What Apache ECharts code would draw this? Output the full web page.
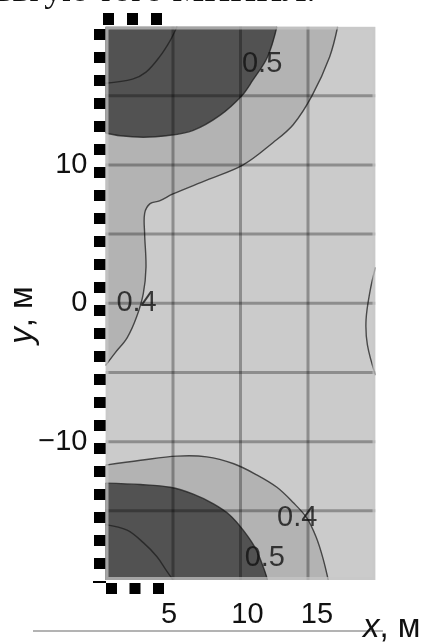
<!DOCTYPE html>
<html><head><meta charset="utf-8">
<script src="https://cdn.jsdelivr.net/npm/echarts@6/dist/echarts.min.js"></script>
<style>html,body{margin:0;padding:0;background:#fff}#c{width:424px;height:644px}</style>
</head><body><div id="c"></div>
<script>
// tick labels and grid positions
const xTickLabels = [5, 10, 15];
const yTickLabels = [-10, 0, 10];
const gridX = [5, 10, 15];
const gridY = [-15, -10, -5, 0, 5, 10, 15];
// contour lines ([x, y] in metres)
const c04Top = [[17.2,20],[16.6,17.8],[15.3,15.0],[13.9,12.9],[12.4,11.6],[10.2,10.0],[7.5,8.9],[5.0,7.9],[4.0,7.4],[3.3,7.2],[2.9,6.5],[2.9,5.0],[3.0,2.6],[2.8,0.7],[2.3,-1.0],[1.6,-2.5],[0.7,-3.6],[0,-4.5]];
const c05Top = [[12.7,20],[12.0,17.8],[10.9,16.1],[10.1,15.0],[8.5,13.6],[6.5,12.5],[4.5,12.1],[2.8,12.0],[1.1,12.1],[0,12.3]];
const c06Top = [[0,15.9],[2.0,16.2],[3.0,16.7],[4.0,17.8],[4.8,19.0],[5.3,20]];
const c04Bot = [[0,-11.7],[2.6,-11.35],[5.3,-11.05],[7.5,-11.1],[9.5,-11.6],[11.2,-12.4],[12.7,-13.3],[13.9,-14.4],[14.9,-15.5],[15.6,-16.9],[16.1,-18.4],[16.5,-20]];
const c05Bot = [[0,-13.0],[2.6,-13.1],[4.8,-13.3],[6.5,-13.8],[8.0,-14.5],[9.2,-15.3],[10.2,-16.4],[11.1,-17.7],[11.7,-19.1],[12.0,-20]];
const c06Bot = [[0,-16.0],[1.6,-16.4],[2.8,-17.3],[3.8,-18.3],[4.5,-19.3],[5.0,-20]];
const c035Right = [[20,2.6],[19.6,0.9],[19.3,-1.2],[19.4,-3.0],[20,-5.2]];
// contour labels
const labelPos = [[11.6,17.3],[2.3,0],[14.2,-15.5],[11.8,-18.4]];
const labelText = ['0.5','0.4','0.4','0.5'];

const X_MIN = 0, X_MAX = 20, Y_MIN = -20, Y_MAX = 20;
const C_LIGHT = '#cbcbcb', C_MED = '#b3b3b3', C_DARK = '#525252';
const FONT = '"Liberation Sans", Arial, sans-serif';
const SMOOTH = 0.35;

const chart = echarts.init(document.getElementById('c'), null, {renderer: 'canvas'});

// filled band: contour curve closed through points outside the plot (clipped away)
function band(api, pts, outside, fill) {
  return {type: 'polygon', shape: {points: pts.concat(outside).map(p => api.coord(p)), smooth: SMOOTH}, style: {fill: fill}};
}
function pline(api, pts, stroke, w, smooth) {
  return {type: 'polyline', shape: {points: pts.map(p => api.coord(p)), smooth: smooth || 0}, style: {stroke: stroke, lineWidth: w, fill: null}};
}

const graphics = [];
// top cropped text line
graphics.push({type: 'text', left: -4, top: -26, style: {text: 'ьвгую того МИНИЛ.', font: '36px "Liberation Serif", serif', fill: '#111'}});
// black square decorations
for (let i = 0; i < 24; i++) graphics.push({type: 'rect', shape: {x: 94, y: 29 + i * 23, width: 12, height: 11}, style: {fill: '#000'}});
for (let i = 0; i < 3; i++) graphics.push({type: 'rect', shape: {x: 103 + i * 24, y: 13, width: 11, height: 12}, style: {fill: '#000'}});
for (let i = 0; i < 3; i++) graphics.push({type: 'rect', shape: {x: 106 + i * 23.5, y: 583, width: 11, height: 11}, style: {fill: '#000'}});
graphics.push({type: 'rect', shape: {x: 93, y: 581, width: 13, height: 2}, style: {fill: '#000'}});
// baseline rule
graphics.push({type: 'line', shape: {x1: 33, y1: 631, x2: 383, y2: 631}, style: {stroke: '#9a9a9a', lineWidth: 1.5}});
// axis names
graphics.push({type: 'text', x: 23, y: 315, rotation: Math.PI / 2,
  style: {text: '{i|y}, м', align: 'center', verticalAlign: 'middle', font: '33px ' + FONT, fill: '#111',
    rich: {i: {fontStyle: 'italic', fontSize: 33, fontFamily: 'Liberation Sans'}}}});
graphics.push({type: 'text', x: 363, y: 644,
  style: {text: '{i|x}, м', align: 'left', verticalAlign: 'bottom', font: '33px ' + FONT, fill: '#111',
    rich: {i: {fontStyle: 'italic', fontSize: 33, fontFamily: 'Liberation Sans'}}}});

const xLabelRich = {
  l: {fontSize: 29, fontFamily: FONT, color: '#111', padding: [0, 8, 0, 0]},
  m: {fontSize: 29, fontFamily: FONT, color: '#111', padding: [0, 0, 0, 14]},
  r: {fontSize: 29, fontFamily: FONT, color: '#111', padding: [0, 0, 0, 18]}
};
const xLabelStyleKey = {5: 'l', 10: 'm', 15: 'r'};

const option = {
  animation: false,
  backgroundColor: '#fff',
  grid: {left: 105.5, top: 26.5, width: 270, height: 553.5, containLabel: false},
  xAxis: {type: 'value', min: X_MIN, max: X_MAX, interval: 5,
    axisLine: {show: false}, axisTick: {show: false}, splitLine: {show: false},
    axisLabel: {margin: 20, fontSize: 29, fontFamily: FONT, color: '#111', rich: xLabelRich,
      formatter: v => xTickLabels.includes(v) ? '{' + xLabelStyleKey[v] + '|' + v + '}' : ''}},
  yAxis: {type: 'value', min: Y_MIN, max: Y_MAX, interval: 5,
    axisLine: {show: false}, axisTick: {show: false}, splitLine: {show: false},
    axisLabel: {margin: 18, fontSize: 29, fontFamily: FONT, color: '#111',
      formatter: v => yTickLabels.includes(v) ? String(v).replace('-', '\u2212') : ''}},
  series: [
    {type: 'custom', coordinateSystem: 'cartesian2d', data: [[0, 0]], silent: true, z: 2, clip: true,
      renderItem: function (params, api) {
        const a = api.coord([X_MIN, Y_MAX]), b = api.coord([X_MAX, Y_MIN]);
        const ch = [];
        // background field
        ch.push({type: 'rect', shape: {x: a[0], y: a[1], width: b[0] - a[0], height: b[1] - a[1]}, style: {fill: C_LIGHT}});
        // filled contour bands
        ch.push(band(api, c04Top, [[-3, -6.5], [-4, 24], [17.6, 23.5]], C_MED));
        ch.push(band(api, c05Top, [[-3, 12.6], [-4, 24], [13.2, 23.5]], C_DARK));
        ch.push(band(api, c04Bot, [[16.8, -23.5], [-4, -24], [-3, -11.9]], C_MED));
        ch.push(band(api, c05Bot, [[12.3, -23.5], [-4, -24], [-3, -12.9]], C_DARK));
        // contour lines
        const lc = 'rgba(30,30,30,0.75)';
        [c04Top, c05Top, c06Top, c04Bot, c05Bot, c06Bot, c035Right].forEach(c => ch.push(pline(api, c, lc, 1.4, SMOOTH)));
        // grid lines
        const gc = 'rgba(0,0,0,0.3)';
        gridX.forEach(x => ch.push(pline(api, [[x, Y_MIN], [x, Y_MAX]], gc, 3)));
        gridY.forEach(y => ch.push(pline(api, [[X_MIN, y], [X_MAX, y]], gc, 3)));
        // frame
        ch.push({type: 'rect', shape: {x: a[0] + 1.5, y: a[1] + 1.5, width: b[0] - a[0] - 3, height: b[1] - a[1] - 3},
          style: {fill: null, stroke: 'rgba(200,200,200,0.7)', lineWidth: 3}});
        return {type: 'group', children: ch,
          clipPath: {type: 'rect', shape: {x: a[0], y: a[1], width: b[0] - a[0], height: b[1] - a[1]}}};
      }},
    {type: 'scatter', data: labelPos.map((p, i) => ({value: p, name: labelText[i]})), symbolSize: 0, silent: true, z: 5,
      label: {show: true, position: 'inside', formatter: p => p.name, fontSize: 29, fontFamily: FONT, color: '#111'}}
  ],
  graphic: graphics
};
chart.setOption(option);
</script></body></html>
